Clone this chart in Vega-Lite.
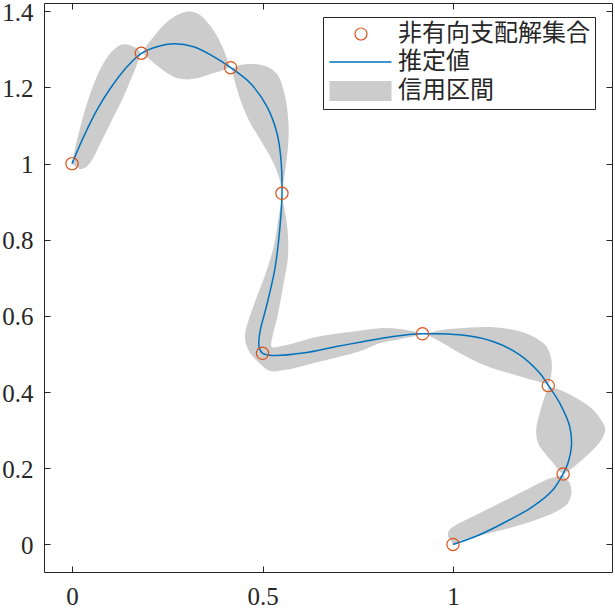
{
  "$schema": "https://vega.github.io/schema/vega-lite/v6.json",
  "width": 568,
  "height": 569,
  "autosize": {"type": "none"},
  "padding": {"left": 44, "top": 3, "right": 3, "bottom": 38},
  "background": "white",
  "config": {
    "view": {"stroke": "#262626", "strokeWidth": 1},
    "axis": {"grid": false, "domain": false, "tickColor": "#262626", "tickSize": -6, "tickWidth": 1, "labelFont": "Liberation Serif", "labelFontSize": 25, "labelColor": "#262626", "title": null}
  },
  "datasets": {
    "band": [
      {"i":1,"x":0,"y":1},{"i":2,"x":0.0089,"y":1.0446},{"i":3,"x":0.022,"y":1.0971},{"i":4,"x":0.0394,"y":1.1585},{"i":5,"x":0.0614,"y":1.2197},{"i":6,"x":0.0877,"y":1.2722},{"i":7,"x":0.1139,"y":1.3029},{"i":8,"x":0.1357,"y":1.3134},{"i":9,"x":0.1575,"y":1.3089},{"i":10,"x":0.1751,"y":1.2984},
      {"i":11,"x":0.1822,"y":1.2898},{"i":12,"x":0.1969,"y":1.3115},{"i":13,"x":0.2144,"y":1.3333},{"i":14,"x":0.2407,"y":1.364},{"i":15,"x":0.2714,"y":1.3877},{"i":16,"x":0.3018,"y":1.399},{"i":17,"x":0.3281,"y":1.3948},{"i":18,"x":0.3543,"y":1.3727},{"i":19,"x":0.3764,"y":1.3423},{"i":20,"x":0.3982,"y":1.2984},
      {"i":21,"x":0.4113,"y":1.2635},{"i":22,"x":0.4165,"y":1.252},{"i":23,"x":0.442,"y":1.2591},{"i":24,"x":0.4856,"y":1.2609},{"i":25,"x":0.5207,"y":1.2504},{"i":26,"x":0.5425,"y":1.2283},{"i":27,"x":0.5575,"y":1.1848},{"i":28,"x":0.5661,"y":1.1323},{"i":29,"x":0.5688,"y":1.0798},{"i":30,"x":0.5643,"y":1.0184},
      {"i":31,"x":0.5575,"y":0.9659},{"i":32,"x":0.5512,"y":0.9223},{"i":33,"x":0.5627,"y":0.8522},{"i":34,"x":0.5675,"y":0.7997},{"i":35,"x":0.5661,"y":0.7472},{"i":36,"x":0.557,"y":0.6947},{"i":37,"x":0.5478,"y":0.6423},{"i":38,"x":0.5373,"y":0.5898},{"i":39,"x":0.5255,"y":0.5425},{"i":40,"x":0.5241,"y":0.5189},
      {"i":41,"x":0.553,"y":0.5215},{"i":42,"x":0.5976,"y":0.5328},{"i":43,"x":0.6501,"y":0.5465},{"i":44,"x":0.7551,"y":0.5609},{"i":45,"x":0.8076,"y":0.568},{"i":46,"x":0.8601,"y":0.5654},{"i":47,"x":0.9081,"y":0.5564},{"i":48,"x":0.9197,"y":0.553},{"i":49,"x":0.9738,"y":0.5635},{"i":50,"x":1.0438,"y":0.5696},
      {"i":51,"x":1.105,"y":0.5706},{"i":52,"x":1.1575,"y":0.5635},{"i":53,"x":1.21,"y":0.5459},{"i":54,"x":1.2451,"y":0.5197},{"i":55,"x":1.2583,"y":0.4848},{"i":56,"x":1.2583,"y":0.4499},{"i":57,"x":1.2538,"y":0.4278},{"i":58,"x":1.2504,"y":0.4173},{"i":59,"x":1.2801,"y":0.406},{"i":60,"x":1.3239,"y":0.3843},
      {"i":61,"x":1.3675,"y":0.3535},{"i":62,"x":1.3937,"y":0.3186},{"i":63,"x":1.3995,"y":0.301},{"i":64,"x":1.3895,"y":0.2748},{"i":65,"x":1.3588,"y":0.2399},{"i":66,"x":1.3239,"y":0.2092},{"i":67,"x":1.2976,"y":0.189},{"i":68,"x":1.2887,"y":0.1848},{"i":69,"x":1.3063,"y":0.1612},{"i":70,"x":1.3108,"y":0.1349},
      {"i":71,"x":1.3018,"y":0.1087},{"i":72,"x":1.2714,"y":0.0866},{"i":73,"x":1.2189,"y":0.0648},{"i":74,"x":1.1488,"y":0.043},{"i":75,"x":1.0787,"y":0.0255},{"i":76,"x":1.0176,"y":0.0097},{"i":77,"x":1,"y":0},{"i":78,"x":0.9958,"y":0.0079},{"i":79,"x":0.9869,"y":0.021},{"i":80,"x":0.9895,"y":0.0367},
      {"i":81,"x":1.0089,"y":0.0517},{"i":82,"x":1.0614,"y":0.078},{"i":83,"x":1.1312,"y":0.1129},{"i":84,"x":1.1927,"y":0.1436},{"i":85,"x":1.2451,"y":0.1698},{"i":86,"x":1.2887,"y":0.1848},{"i":87,"x":1.2801,"y":0.1916},{"i":88,"x":1.2625,"y":0.2136},{"i":89,"x":1.2407,"y":0.2399},{"i":90,"x":1.2231,"y":0.2661},
      {"i":91,"x":1.2184,"y":0.301},{"i":92,"x":1.2276,"y":0.3449},{"i":93,"x":1.2407,"y":0.3885},{"i":94,"x":1.2504,"y":0.4173},{"i":95,"x":1.232,"y":0.4252},{"i":96,"x":1.1927,"y":0.4367},{"i":97,"x":1.1312,"y":0.4541},{"i":98,"x":1.0701,"y":0.4761},{"i":99,"x":1.0176,"y":0.5024},{"i":100,"x":0.9738,"y":0.5286},
      {"i":101,"x":0.9197,"y":0.553},{"i":102,"x":0.9039,"y":0.5478},{"i":103,"x":0.8601,"y":0.5391},{"i":104,"x":0.8076,"y":0.5286},{"i":105,"x":0.7551,"y":0.5076},{"i":106,"x":0.6501,"y":0.4803},{"i":107,"x":0.5627,"y":0.4585},{"i":108,"x":0.5189,"y":0.4559},{"i":109,"x":0.4927,"y":0.4761},{"i":110,"x":0.4709,"y":0.4979},
      {"i":111,"x":0.4559,"y":0.5286},{"i":112,"x":0.4546,"y":0.5556},{"i":113,"x":0.4638,"y":0.5898},{"i":114,"x":0.4822,"y":0.6423},{"i":115,"x":0.5071,"y":0.7079},{"i":116,"x":0.5294,"y":0.7822},{"i":117,"x":0.5425,"y":0.8609},{"i":118,"x":0.5512,"y":0.9223},{"i":119,"x":0.5425,"y":0.9659},{"i":120,"x":0.5249,"y":1.0097},
      {"i":121,"x":0.4945,"y":1.0622},{"i":122,"x":0.4638,"y":1.1147},{"i":123,"x":0.442,"y":1.1672},{"i":124,"x":0.4262,"y":1.2197},{"i":125,"x":0.4165,"y":1.252},{"i":126,"x":0.3982,"y":1.2459},{"i":127,"x":0.3633,"y":1.2354},{"i":128,"x":0.3281,"y":1.2241},{"i":129,"x":0.2932,"y":1.2215},{"i":130,"x":0.2625,"y":1.2302},
      {"i":131,"x":0.232,"y":1.2504},{"i":132,"x":0.2058,"y":1.2722},{"i":133,"x":0.1822,"y":1.2898},{"i":134,"x":0.1751,"y":1.2722},{"i":135,"x":0.1575,"y":1.2283},{"i":136,"x":0.1312,"y":1.1672},{"i":137,"x":0.1008,"y":1.106},{"i":138,"x":0.0745,"y":1.0535},{"i":139,"x":0.0525,"y":1.0097},{"i":140,"x":0.0352,"y":0.9895},
      {"i":141,"x":0.022,"y":0.9861},{"i":142,"x":0.0089,"y":0.9921}
    ],
    "curve": [
      {"i":1,"x":0,"y":1},{"i":2,"x":0.0307,"y":1.0709},{"i":3,"x":0.0656,"y":1.1409},{"i":4,"x":0.1008,"y":1.1979},{"i":5,"x":0.1444,"y":1.2546},{"i":6,"x":0.1822,"y":1.2898},{"i":7,"x":0.2231,"y":1.3071},{"i":8,"x":0.2669,"y":1.315},{"i":9,"x":0.3194,"y":1.3071},{"i":10,"x":0.3719,"y":1.2808},
      {"i":11,"x":0.4165,"y":1.252},{"i":12,"x":0.4682,"y":1.211},{"i":13,"x":0.5118,"y":1.1496},{"i":14,"x":0.5381,"y":1.0798},{"i":15,"x":0.5486,"y":1.0097},{"i":16,"x":0.5512,"y":0.9223},{"i":17,"x":0.5451,"y":0.826},{"i":18,"x":0.532,"y":0.721},{"i":19,"x":0.5102,"y":0.6247},{"i":20,"x":0.4927,"y":0.5549},
      {"i":21,"x":0.4908,"y":0.5197},{"i":22,"x":0.4997,"y":0.5024},{"i":23,"x":0.5276,"y":0.4961},{"i":24,"x":0.6063,"y":0.5024},{"i":25,"x":0.694,"y":0.5197},{"i":26,"x":0.7551,"y":0.5307},{"i":27,"x":0.8425,"y":0.5459},{"i":28,"x":0.9197,"y":0.553},{"i":29,"x":1.0176,"y":0.5504},{"i":30,"x":1.105,"y":0.5328},
      {"i":31,"x":1.1751,"y":0.4979},{"i":32,"x":1.2276,"y":0.4499},{"i":33,"x":1.2504,"y":0.4173},{"i":34,"x":1.2801,"y":0.3711},{"i":35,"x":1.3063,"y":0.3097},{"i":36,"x":1.3108,"y":0.2572},{"i":37,"x":1.3018,"y":0.2136},{"i":38,"x":1.2887,"y":0.1848},{"i":39,"x":1.2625,"y":0.1436},{"i":40,"x":1.21,"y":0.0997},
      {"i":41,"x":1.1488,"y":0.0648},{"i":42,"x":1.0701,"y":0.0255},{"i":43,"x":1,"y":0}
    ],
    "points": [
      {"series":"非有向支配解集合","x":0,"y":1},
      {"series":"非有向支配解集合","x":0.182,"y":1.29},
      {"series":"非有向支配解集合","x":0.4165,"y":1.252},
      {"series":"非有向支配解集合","x":0.551,"y":0.922},
      {"series":"非有向支配解集合","x":0.5,"y":0.502},
      {"series":"非有向支配解集合","x":0.92,"y":0.553},
      {"series":"非有向支配解集合","x":1.25,"y":0.417},
      {"series":"非有向支配解集合","x":1.289,"y":0.185},
      {"series":"非有向支配解集合","x":1,"y":0}
    ]
  },
  "layer": [
    {
      "data": {"name": "band"},
      "mark": {"type": "line", "fill": "#CCCCCC", "strokeWidth": 0, "interpolate": "catmull-rom"},
      "encoding": {
        "x": {"field": "x", "type": "quantitative", "scale": {"domain": [-0.0735, 1.4173], "nice": false, "zero": false}, "axis": {"orient": "bottom", "values": [0, 0.5, 1], "format": "~g", "labelPadding": 18}},
        "y": {"field": "y", "type": "quantitative", "scale": {"domain": [-0.0724, 1.4218], "nice": false, "zero": false}, "axis": {"orient": "left", "values": [0, 0.2, 0.4, 0.6, 0.8, 1, 1.2, 1.4], "format": "~g", "labelPadding": 17, "labelOffset": 1}},
        "order": {"field": "i", "type": "quantitative"}
      }
    },
    {
      "data": {"name": "curve"},
      "mark": {"type": "line", "stroke": "#0072BD", "strokeWidth": 1.5, "interpolate": "catmull-rom"},
      "encoding": {
        "x": {"field": "x", "type": "quantitative", "axis": {"orient": "top", "values": [0, 0.5, 1], "labels": false}},
        "y": {"field": "y", "type": "quantitative", "axis": {"orient": "right", "values": [0, 0.2, 0.4, 0.6, 0.8, 1, 1.2, 1.4], "labels": false}},
        "order": {"field": "i", "type": "quantitative"}
      }
    },
    {
      "data": {"name": "points"},
      "mark": {"type": "point", "shape": "circle", "filled": false, "size": 150, "strokeWidth": 1.2, "color": "#D95319", "opacity": 1},
      "encoding": {
        "x": {"field": "x", "type": "quantitative", "axis": null},
        "y": {"field": "y", "type": "quantitative", "axis": null}
      }
    },
    {
      "data": {"name": "points"},
      "mark": {"type": "point", "filled": true, "opacity": 0},
      "encoding": {
        "x": {"field": "x", "type": "quantitative", "axis": null},
        "y": {"field": "y", "type": "quantitative", "axis": null},
        "color": {
          "field": "series", "type": "nominal",
          "scale": {"domain": ["非有向支配解集合", "推定値", "信用区間"], "range": ["#D95319", "#0072BD", "#CCCCCC"]},
          "legend": {
            "title": null, "orient": "none", "legendX": 279, "legendY": 14,
            "symbolSize": 400, "symbolOpacity": 1, "labelOffset": 46, "padding": 5, "rowPadding": 4,
            "strokeColor": "#262626", "fillColor": "white", "cornerRadius": 0,
            "labelFont": "Noto Sans CJK JP", "labelFontSize": 24, "labelColor": "#262626", "labelLimit": 400
          }
        },
        "shape": {
          "field": "series", "type": "nominal",
          "scale": {"domain": ["非有向支配解集合", "推定値", "信用区間"], "range": [
            "M2.76,0A0.66,0.66,0,1,1,1.44,0A0.66,0.66,0,1,1,2.76,0ZM2.64,0A0.54,0.54,0,1,0,1.56,0A0.54,0.54,0,1,0,2.64,0Z",
            "M-1.05,-0.075H5.15V0.075H-1.05Z",
            "M-1.05,-1H5.15V1H-1.05Z"
          ]},
          "legend": {
            "title": null, "orient": "none", "legendX": 279, "legendY": 14,
            "symbolSize": 400, "symbolOpacity": 1, "labelOffset": 46, "padding": 5, "rowPadding": 4,
            "strokeColor": "#262626", "fillColor": "white", "cornerRadius": 0,
            "labelFont": "Noto Sans CJK JP", "labelFontSize": 24, "labelColor": "#262626", "labelLimit": 400
          }
        }
      }
    }
  ],
  "resolve": {"axis": {"x": "independent", "y": "independent"}}
}
